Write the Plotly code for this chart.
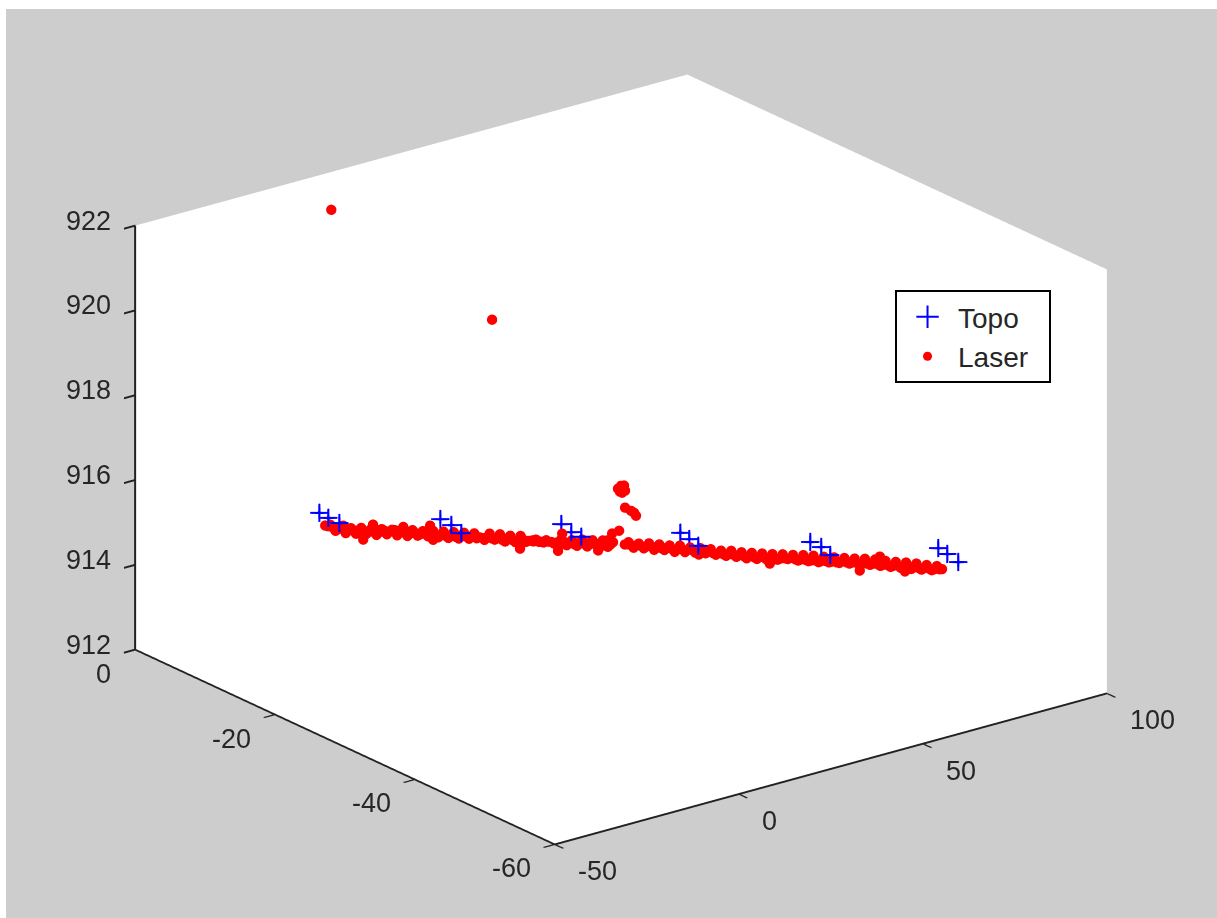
import plotly.graph_objects as go

topo_x = [-40,-40,-40,-16,-16,-16,8,8,8,32,32,32,56,56,56,80,80,80]
topo_y = [-21.03,-22.31,-23.89,-25.70,-27.27,-28.70,-30.37,-31.79,-33.22,-34.75,-36.03,-37.32,-40.70,-42.27,-43.56,-46.37,-47.66,-49.23]
topo_z = [916.61,916.59,916.59,916.25,916.23,916.15,915.92,915.84,915.84,915.48,915.43,915.37,915.15,915.15,915.06,914.87,914.83,914.76]

laser_x = [-40,-39,-38,-37,-36,-35,-34,-33,-32,-31,-30,-29,-28,-27,-26,-25,-24,-23,-22,-21,
           -20,-19,-18,-17,-16,-15,-14,-13,-12,-11,-10,-9,-8,-7,-6,-5,-4,-3,-2,-1,
           0,1,2,3,4,5,6,7,8,9,10,11,12,13,14,15,16,18.3,19,20,
           21,22,23,24,25,26,27,28,29,30,31,32,33,34,35,36,37,38,39,40,
           41,42,43,44,45,46,47,48,49,50,51,52,53,54,55,56,57,58,59,60,
           61,62,63,64,65,66,67,68,69,70,71,72,73,74,75,76,77,78,79,80,
           0,1,14.7,15.4,
           18,18,18,18,18,18,
           18,18,18,18,
           18,18,
           0,0]
laser_y = [-21.90,-22.11,-22.32,-22.53,-22.74,-22.94,-23.15,-23.36,-23.57,-23.78,-23.98,-24.19,-24.40,-24.61,-24.82,-25.03,-25.24,-25.44,-25.65,-25.86,
           -26.07,-26.28,-26.49,-26.70,-26.90,-27.11,-27.32,-27.53,-27.74,-27.95,-28.16,-28.36,-28.57,-28.78,-28.99,-29.20,-29.41,-29.62,-29.83,-30.04,
           -30.25,-30.45,-30.66,-30.87,-31.08,-31.29,-31.50,-31.70,-31.91,-32.12,-32.33,-32.54,-32.75,-32.96,-33.17,-33.37,-33.58,-34.06,-34.21,-34.42,
           -34.63,-34.83,-35.04,-35.25,-35.46,-35.67,-35.88,-36.09,-36.30,-36.51,-36.71,-36.92,-37.13,-37.34,-37.55,-37.76,-37.97,-38.18,-38.38,-38.59,
           -38.80,-39.01,-39.22,-39.43,-39.64,-39.84,-40.05,-40.26,-40.47,-40.68,-40.89,-41.10,-41.31,-41.52,-41.72,-41.93,-42.14,-42.35,-42.56,-42.77,
           -42.98,-43.18,-43.39,-43.60,-43.81,-44.02,-44.23,-44.44,-44.64,-44.85,-45.06,-45.27,-45.48,-45.69,-45.90,-46.11,-46.31,-46.52,-46.73,-46.94,
           -30.60,-30.90,-33.40,-33.50,
           -33.24,-33.67,-34.10,-34.25,-33.53,-33.82,
           -34.25,-35.11,-35.54,-35.82,
           -33.40,-32.40,
           -1.71,-24.71]
laser_z = [916.37,916.38,916.23,916.33,916.16,916.27,916.13,916.26,916.11,916.23,916.07,916.20,916.07,916.17,916.03,916.18,916.00,916.13,915.99,916.09,
           915.96,916.08,915.92,916.05,915.89,916.02,915.86,915.99,915.84,915.96,915.86,915.79,915.93,915.78,915.90,915.72,915.85,915.69,915.83,915.68,
           915.70,915.72,915.66,915.69,915.64,915.62,915.70,915.54,915.65,915.51,915.65,915.48,915.62,915.46,915.60,915.44,915.54,915.47,915.52,915.38,
           915.47,915.35,915.46,915.30,915.42,915.28,915.38,915.22,915.36,915.20,915.30,915.17,915.27,915.14,915.23,915.09,915.18,915.05,915.16,915.01,
           915.11,914.96,915.08,914.93,915.05,914.89,915.02,914.88,915.00,914.88,914.97,914.83,914.95,914.80,914.92,914.76,914.88,914.74,914.85,914.71,
           914.82,914.68,914.79,914.65,914.77,914.62,914.74,914.58,914.69,914.54,914.65,914.50,914.62,914.46,914.58,914.43,914.53,914.40,914.49,914.41,
           915.74,915.70,915.60,915.55,
           916.73,916.83,916.87,916.76,916.68,916.68,
           916.36,916.35,916.34,916.29,
           915.75,915.61,
           921.32,920.49]

laser2_x = [-39.5,-38.5,-37.5,-36.5,-35.5,-34.5,-33.5,-32.5,-31.5,-30.5,-29.5,-28.5,-27.5,-26.5,-25.5,-24.5,-23.5,-22.5,-21.5,-20.5,
            -19.5,-18.5,-17.5,-16.5,-15.5,-14.5,-13.5,-12.5,-11.5,-10.5,-9.5,-8.5,-7.5,-6.5,-5.5,-4.5,-3.5,-2.5,-1.5,-0.5,
            0.5,1.5,2.5,3.5,4.5,5.5,6.5,7.5,8.5,9.5,10.5,11.5,12.5,13.5,14.5,15.5,18.8,19.5,
            20.5,21.5,22.5,23.5,24.5,25.5,26.5,27.5,28.5,29.5,30.5,31.5,32.5,33.5,34.5,35.5,36.5,37.5,38.5,39.5,
            40.5,41.5,42.5,43.5,44.5,45.5,46.5,47.5,48.5,49.5,50.5,51.5,52.5,53.5,54.5,55.5,56.5,57.5,58.5,59.5,
            60.5,61.5,62.5,63.5,64.5,65.5,66.5,67.5,68.5,69.5,70.5,71.5,72.5,73.5,74.5,75.5,76.5,77.5,78.5,79.5,
            -30.7,-36.5,-24.8,-19.6,-32.6,-19,-2.1,5.3,13.1,6.1,64,67.9,32.7,46.5,72.8]
laser2_y = [-22.00,-22.21,-22.42,-22.63,-22.84,-23.05,-23.26,-23.47,-23.67,-23.88,-24.09,-24.30,-24.51,-24.72,-24.92,-25.13,-25.34,-25.55,-25.76,-25.96,
            -26.17,-26.38,-26.59,-26.80,-27.01,-27.22,-27.43,-27.63,-27.84,-28.05,-28.26,-28.47,-28.68,-28.89,-29.09,-29.30,-29.51,-29.72,-29.93,-30.14,
            -30.35,-30.56,-30.76,-30.97,-31.18,-31.39,-31.60,-31.81,-32.02,-32.22,-32.43,-32.64,-32.85,-33.06,-33.27,-33.48,-34.17,-34.31,
            -34.52,-34.73,-34.94,-35.15,-35.36,-35.56,-35.77,-35.98,-36.19,-36.40,-36.61,-36.82,-37.03,-37.24,-37.44,-37.65,-37.86,-38.07,-38.28,-38.49,
            -38.70,-38.91,-39.11,-39.32,-39.53,-39.74,-39.95,-40.16,-40.37,-40.57,-40.78,-40.99,-41.20,-41.41,-41.62,-41.83,-42.04,-42.24,-42.45,-42.66,
            -42.87,-43.08,-43.29,-43.50,-43.71,-43.91,-44.12,-44.33,-44.54,-44.75,-44.96,-45.17,-45.38,-45.58,-45.79,-46.00,-46.21,-46.42,-46.63,-46.84,
            -23.84,-22.63,-25.07,-26.16,-23.44,-26.28,-29.81,-31.35,-32.98,-31.52,-43.60,-44.42,-37.07,-39.95,-45.44]
laser2_z = [916.35,916.31,916.26,916.28,916.21,916.22,916.18,916.19,916.15,916.19,916.13,916.16,916.12,916.16,916.08,916.12,916.05,916.06,916.02,916.05,
            916.00,915.97,915.97,915.94,915.95,915.90,915.92,915.89,915.90,915.84,915.84,915.85,915.81,915.82,915.76,915.80,915.74,915.72,915.74,915.70,
            915.68,915.68,915.64,915.65,915.60,915.64,915.58,915.60,915.55,915.57,915.54,915.55,915.52,915.53,915.47,915.49,915.47,915.45,
            915.42,915.41,915.39,915.38,915.36,915.32,915.33,915.29,915.28,915.26,915.24,915.23,915.21,915.19,915.17,915.13,915.12,915.09,915.08,915.06,
            915.05,915.01,915.00,914.97,914.97,914.94,914.93,914.91,914.90,914.90,914.90,914.86,914.85,914.83,914.81,914.80,914.78,914.77,914.75,914.73,
            914.74,914.71,914.70,914.68,914.67,914.65,914.64,914.62,914.60,914.58,914.56,914.55,914.52,914.52,914.49,914.47,914.46,914.44,914.42,914.41,
            916.32,916.34,916.22,916.21,915.98,915.87,915.53,915.42,915.37,915.82,914.50,914.80,915.12,914.80,914.41]

x_ticks = [-50, 0, 50, 100]
y_ticks = [-60, -40, -20, 0]
z_ticks = [912, 914, 916, 918, 920, 922]

GRAY = "#cdcdcd"
INK = "#262626"
font = dict(family="Liberation Sans, Arial, sans-serif", size=27, color=INK)

def axis(rng, ticks):
    return dict(
        range=rng, tickvals=ticks, showticklabels=False, title=dict(text=""),
        showgrid=False, zeroline=False, showline=True, linecolor="#222222", linewidth=4,
        ticks="outside", ticklen=14, tickwidth=4, tickcolor="#222222",
        showbackground=True, backgroundcolor="white", showspikes=False,
    )

def label(x, y, z, text, xanchor, xshift, yshift):
    return dict(x=x, y=y, z=z, text=text, showarrow=False, font=font, xanchor=xanchor,
                yanchor="middle", xshift=xshift, yshift=yshift)

annotations = (
    [label(t, -60, 912, str(t), "left", 21, -27) for t in x_ticks]
    + [label(-50, t, 912, str(t), "right", -22, -24) for t in y_ticks]
    + [label(-50, 0, t, str(t), "right", -22, 5) for t in z_ticks]
)

fig = go.Figure()
fig.add_trace(go.Scatter(x=[None], y=[None], mode="markers", name="Topo",
                         marker=dict(symbol="cross-thin", size=16, color="#0000ff",
                                     line=dict(width=2, color="#0000ff"))))
fig.add_trace(go.Scatter(x=[None], y=[None], mode="markers", name="Laser\u00a0\u00a0",
                         marker=dict(symbol="circle", size=9, color="#ff0000")))
fig.add_trace(go.Scatter3d(x=topo_x, y=topo_y, z=topo_z, mode="markers", name="Topo", showlegend=False,
                           marker=dict(symbol="cross", size=10, color="#0000ff", line=dict(width=0))))
fig.add_trace(go.Scatter3d(x=laser_x + laser2_x, y=laser_y + laser2_y, z=laser_z + laser2_z,
                           mode="markers", name="Laser", showlegend=False,
                           marker=dict(symbol="circle", size=6, color="#ff0000", line=dict(width=0))))
s = 1.545
fig.update_layout(
    width=1211, height=909, margin=dict(l=19, r=0, t=0, b=8),
    paper_bgcolor=GRAY, plot_bgcolor=GRAY, font=font, showlegend=True,
    xaxis=dict(visible=False), yaxis=dict(visible=False),
    legend=dict(x=0.7299, y=0.688, xanchor="left", yanchor="top", bgcolor="white",
                bordercolor="black", borderwidth=2, font=dict(size=28, color=INK),
                itemwidth=51),
    scene=dict(
        domain=dict(x=[0, 1], y=[0, 1]),
        xaxis=axis([-50, 100], x_ticks), yaxis=axis([-60, 0], y_ticks), zaxis=axis([912, 922], z_ticks),
        annotations=annotations,
        aspectmode="manual", aspectratio=dict(x=1*s, y=0.99*s, z=0.652*s),
        camera=dict(projection=dict(type="orthographic"),
                    up=dict(x=0, y=0, z=1), center=dict(x=0, y=0, z=0),
                    eye=dict(x=-0.5689, y=-0.7412, z=0.3564)),
    ),
)
fig.write_html("out.html", post_script="document.body.style.margin='9px 0 0 6px';")
